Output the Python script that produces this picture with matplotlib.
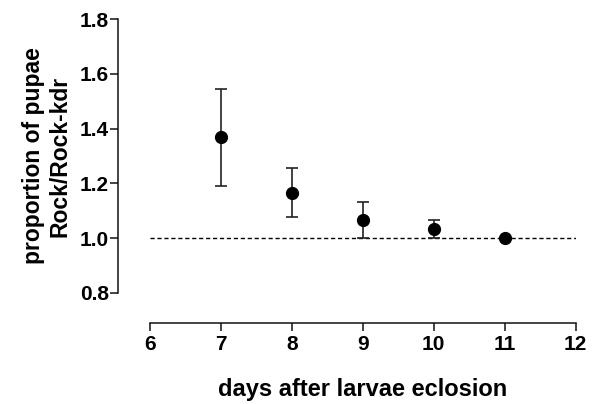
import matplotlib
matplotlib.use("Agg")
import matplotlib.pyplot as plt

plt.rcParams['font.family'] = ['Liberation Sans', 'DejaVu Sans']
plt.rcParams['font.weight'] = 'bold'

# data
days = [7, 8, 9, 10, 11]
ratio = [1.368, 1.166, 1.066, 1.032, 1.0]
err = [0.177, 0.089, 0.067, 0.033, 0.0]
xticks = [6, 7, 8, 9, 10, 11, 12]
yticks = [0.8, 1.0, 1.2, 1.4, 1.6, 1.8]

fig = plt.figure(figsize=(5.97, 4.04), dpi=100)
ax = fig.add_axes([0.2513, 0.2748, 0.713, 0.678])

ax.hlines(1.0, 6, 12, colors='black', linestyles=(0, (3, 2)), linewidth=1.0)
ax.errorbar(days, ratio, yerr=err, fmt='o', color='black', markersize=8.5,
            ecolor='#222222', elinewidth=1.2, capsize=4.6, capthick=1.2, zorder=3)

ax.set_xlim(6, 12)
ax.set_ylim(0.8, 1.8)
ax.set_xticks(xticks)
ax.set_yticks(yticks)
ax.set_yticklabels([f'{v:.1f}' for v in yticks])

for s in ['top', 'right']:
    ax.spines[s].set_visible(False)
ax.spines['left'].set_position(('outward', 23))
ax.spines['bottom'].set_position(('outward', 21.6))
ax.spines['left'].set_bounds(0.8, 1.8)
ax.spines['bottom'].set_bounds(6, 12)
for s in ['left', 'bottom']:
    ax.spines[s].set_linewidth(1.1)
    ax.spines[s].set_color('#111111')

ax.tick_params(axis='both', direction='out', length=5.8, width=1.1,
               labelsize=15, color='#111111')
ax.tick_params(axis='y', pad=1)
ax.tick_params(axis='x', pad=3)

ax.set_xlabel('days after larvae eclosion', fontsize=17, fontweight='bold', labelpad=17)
ax.set_ylabel('proportion of pupae\nRock/Rock-kdr', fontsize=16.5, fontweight='bold',
              labelpad=6)

fig.savefig('out.png', dpi=100)
